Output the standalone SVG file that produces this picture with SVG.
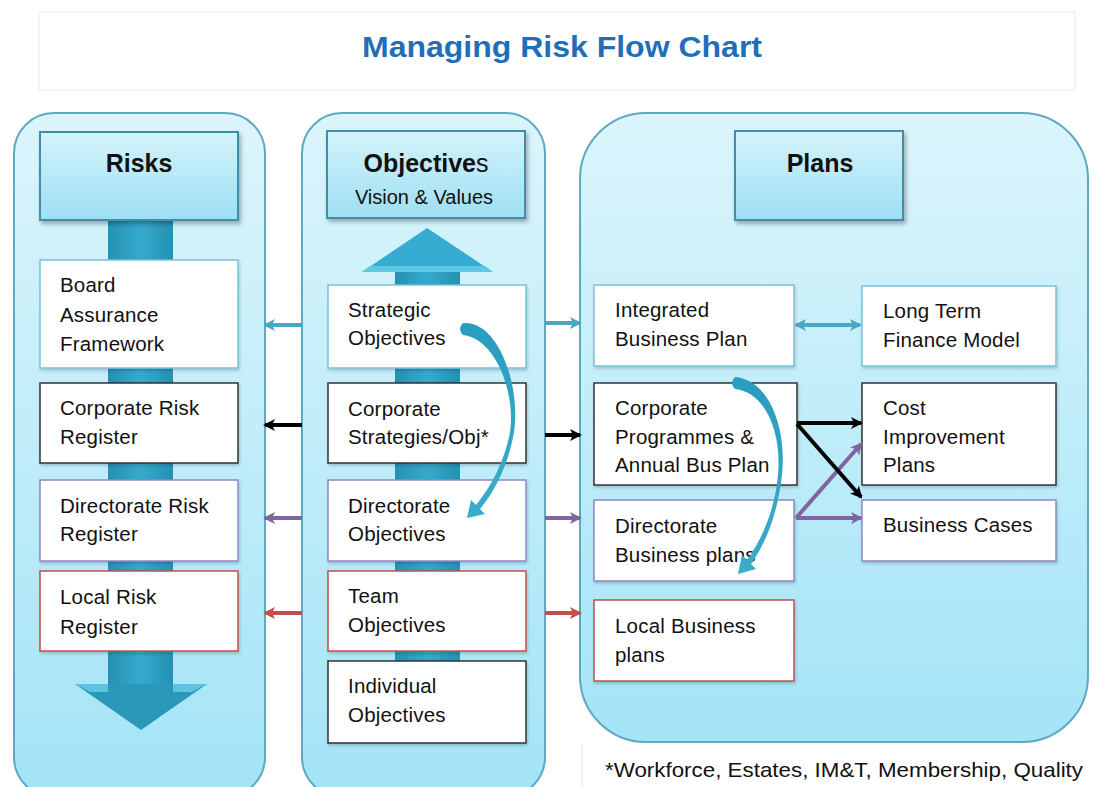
<svg xmlns="http://www.w3.org/2000/svg" width="1094" height="787" viewBox="0 0 1094 787">
  <defs>
    <linearGradient id="panelGrad" x1="0" y1="0" x2="0" y2="1">
      <stop offset="0" stop-color="#dcf5fc"/>
      <stop offset="1" stop-color="#a3e4f6"/>
    </linearGradient>
    <linearGradient id="headGrad" x1="0" y1="0" x2="0" y2="1">
      <stop offset="0" stop-color="#d4f3fb"/>
      <stop offset="1" stop-color="#9edff3"/>
    </linearGradient>
    <linearGradient id="shaftGrad" x1="0" y1="0" x2="1" y2="0">
      <stop offset="0" stop-color="#2590b3"/>
      <stop offset="0.5" stop-color="#35aacd"/>
      <stop offset="1" stop-color="#2590b3"/>
    </linearGradient>
    <linearGradient id="curveGrad" x1="0" y1="0" x2="0" y2="1">
      <stop offset="0" stop-color="#2a9cbf"/>
      <stop offset="1" stop-color="#3aaccb"/>
    </linearGradient>
    <filter id="shadow" x="-10%" y="-10%" width="125%" height="130%">
      <feDropShadow dx="2" dy="3" stdDeviation="2" flood-color="#000" flood-opacity="0.3"/>
    </filter>
    <filter id="soft" x="-10%" y="-10%" width="125%" height="130%">
      <feDropShadow dx="1" dy="2" stdDeviation="1.5" flood-color="#000" flood-opacity="0.18"/>
    </filter>
    <marker id="mTeal" viewBox="0 0 12 12" refX="10" refY="6" markerWidth="12" markerHeight="12" markerUnits="userSpaceOnUse" orient="auto-start-reverse">
      <path d="M0,0 L12,6 L0,12 L3,6 Z" fill="#4aa6c2"/>
    </marker>
    <marker id="mBlack" viewBox="0 0 12 12" refX="10" refY="6" markerWidth="12" markerHeight="12" markerUnits="userSpaceOnUse" orient="auto">
      <path d="M0,0 L12,6 L0,12 L3,6 Z" fill="#000"/>
    </marker>
    <marker id="mPurple" viewBox="0 0 12 12" refX="10" refY="6" markerWidth="12" markerHeight="12" markerUnits="userSpaceOnUse" orient="auto">
      <path d="M0,0 L12,6 L0,12 L3,6 Z" fill="#8064a2"/>
    </marker>
    <marker id="mRed" viewBox="0 0 12 12" refX="10" refY="6" markerWidth="12" markerHeight="12" markerUnits="userSpaceOnUse" orient="auto">
      <path d="M0,0 L12,6 L0,12 L3,6 Z" fill="#c0504d"/>
    </marker>
  </defs>
  <style>
    text { font-family: "Liberation Sans", Arial, sans-serif; fill: #111; }
    .panel { fill: url(#panelGrad); stroke: #5ea9c2; stroke-width: 2; }
    .head { fill: url(#headGrad); stroke: #3f8fa9; stroke-width: 2; filter: url(#shadow); }
    .htxt { font-size: 25px; font-weight: bold; text-anchor: middle; }
    .box { fill: #fff; stroke-width: 1.5; filter: url(#soft); }
    .b-teal { stroke: #79c1d7; }
    .b-dark { stroke: #333; }
    .b-purple { stroke: #8e86c4; }
    .b-red { stroke: #c0504d; }
    .t { font-size: 20.5px; letter-spacing: 0.2px; }
    .c { fill: none; stroke-width: 4; }
    .c-teal { stroke: #4aa6c2; }
    .c-black { stroke: #000; }
    .c-purple { stroke: #8064a2; }
    .c-red { stroke: #c0504d; }
  </style>

  <!-- page title -->
  <g id="title">
    <rect x="39" y="12" width="1036" height="78" fill="#fff" stroke="#ececec" stroke-width="1"/>
    <text x="562" y="57" text-anchor="middle" font-size="29" font-weight="bold" style="fill:#1f6fb8" textLength="400" lengthAdjust="spacingAndGlyphs">Managing Risk Flow Chart</text>
  </g>

  <!-- column backgrounds -->
  <g id="panels">
    <rect class="panel" x="14" y="113" width="251" height="684" rx="40" ry="40"/>
    <rect class="panel" x="302" y="113" width="243" height="684" rx="40" ry="40"/>
    <rect class="panel" x="580" y="113" width="508" height="629" rx="66" ry="66"/>
  </g>

  <!-- big flow arrows behind the boxes -->
  <g id="flow-down">
    <rect x="108" y="218" width="65" height="468" fill="url(#shaftGrad)"/>
    <path d="M75,684 L207,684 L141,730 Z" fill="#2a97bb"/>
    <path d="M75,684 L108,684 L108,692 L90,692 Z" fill="#5cc4e0"/>
    <path d="M207,684 L173,684 L173,692 L192,692 Z" fill="#5cc4e0"/>
  </g>
  <g id="flow-up">
    <rect x="395" y="268" width="65" height="395" fill="url(#shaftGrad)"/>
    <path d="M362,272 L493,272 L427,228 Z" fill="#35acd0"/>
    <path d="M362,272 L493,272 L485,266 L370,266 Z" fill="#5ec8e4"/>
  </g>

  <!-- column headers -->
  <g id="hdr-risks">
    <rect class="head" x="40" y="132" width="198" height="88"/>
    <text class="htxt" x="139" y="172">Risks</text>
  </g>
  <g id="hdr-objectives">
    <rect class="head" x="327" y="131" width="198" height="87"/>
    <text class="htxt" x="426" y="172" font-size="26">Objective<tspan font-weight="normal">s</tspan></text>
    <text x="424" y="204" font-size="20" text-anchor="middle">Vision &amp; Values</text>
  </g>
  <g id="hdr-plans">
    <rect class="head" x="735" y="131" width="168" height="89"/>
    <text class="htxt" x="820" y="172">Plans</text>
  </g>

  <!-- risk column -->
  <g id="board-assurance">
    <rect class="box b-teal" x="40" y="260" width="198" height="108"/>
    <text class="t" x="60" y="292">Board</text>
    <text class="t" x="60" y="322">Assurance</text>
    <text class="t" x="60" y="351">Framework</text>
  </g>
  <g id="corporate-risk">
    <rect class="box b-dark" x="40" y="383" width="198" height="80"/>
    <text class="t" x="60" y="415">Corporate Risk</text>
    <text class="t" x="60" y="444">Register</text>
  </g>
  <g id="directorate-risk">
    <rect class="box b-purple" x="40" y="480" width="198" height="81"/>
    <text class="t" x="60" y="513">Directorate Risk</text>
    <text class="t" x="60" y="541">Register</text>
  </g>
  <g id="local-risk">
    <rect class="box b-red" x="40" y="571" width="198" height="80"/>
    <text class="t" x="60" y="604">Local Risk</text>
    <text class="t" x="60" y="634">Register</text>
  </g>

  <!-- objectives column -->
  <g id="strategic-obj">
    <rect class="box b-teal" x="328" y="285" width="198" height="83"/>
    <text class="t" x="348" y="317">Strategic</text>
    <text class="t" x="348" y="345">Objectives</text>
  </g>
  <g id="corporate-strat">
    <rect class="box b-dark" x="328" y="383" width="198" height="80"/>
    <text class="t" x="348" y="416">Corporate</text>
    <text class="t" x="348" y="444">Strategies/Obj*</text>
  </g>
  <g id="directorate-obj">
    <rect class="box b-purple" x="328" y="480" width="198" height="81"/>
    <text class="t" x="348" y="513">Directorate</text>
    <text class="t" x="348" y="541">Objectives</text>
  </g>
  <g id="team-obj">
    <rect class="box b-red" x="328" y="571" width="198" height="80"/>
    <text class="t" x="348" y="603">Team</text>
    <text class="t" x="348" y="632">Objectives</text>
  </g>
  <g id="individual-obj">
    <rect class="box b-dark" x="328" y="661" width="198" height="82"/>
    <text class="t" x="348" y="693">Individual</text>
    <text class="t" x="348" y="722">Objectives</text>
  </g>

  <!-- plans column -->
  <g id="integrated-plan">
    <rect class="box b-teal" x="594" y="285" width="200" height="81"/>
    <text class="t" x="615" y="317">Integrated</text>
    <text class="t" x="615" y="346">Business Plan</text>
  </g>
  <g id="finance-model">
    <rect class="box b-teal" x="862" y="286" width="194" height="80"/>
    <text class="t" x="883" y="318">Long Term</text>
    <text class="t" x="883" y="347">Finance Model</text>
  </g>
  <g id="corporate-prog">
    <rect class="box b-dark" x="594" y="383" width="203" height="102"/>
    <text class="t" x="615" y="415">Corporate</text>
    <text class="t" x="615" y="444">Programmes &amp;</text>
    <text class="t" x="615" y="472">Annual Bus Plan</text>
  </g>
  <g id="cost-improvement">
    <rect class="box b-dark" x="862" y="383" width="194" height="102"/>
    <text class="t" x="883" y="415">Cost</text>
    <text class="t" x="883" y="444">Improvement</text>
    <text class="t" x="883" y="472">Plans</text>
  </g>
  <g id="directorate-plans">
    <rect class="box b-purple" x="594" y="500" width="200" height="81"/>
    <text class="t" x="615" y="533">Directorate</text>
    <text class="t" x="615" y="562">Business plans</text>
  </g>
  <g id="business-cases">
    <rect class="box b-purple" x="862" y="500" width="194" height="61"/>
    <text class="t" x="883" y="532">Business Cases</text>
  </g>
  <g id="local-plans">
    <rect class="box b-red" x="594" y="600" width="200" height="81"/>
    <text class="t" x="615" y="633">Local Business</text>
    <text class="t" x="615" y="662">plans</text>
  </g>

  <!-- connectors -->
  <g id="connectors">
    <line class="c c-teal" x1="302" y1="325" x2="265" y2="325" marker-end="url(#mTeal)"/>
    <line class="c c-black" x1="302" y1="425" x2="265" y2="425" marker-end="url(#mBlack)"/>
    <line class="c c-purple" x1="302" y1="518" x2="265" y2="518" marker-end="url(#mPurple)"/>
    <line class="c c-red" x1="302" y1="613" x2="265" y2="613" marker-end="url(#mRed)"/>

    <line class="c c-teal" x1="545" y1="323" x2="580" y2="323" marker-end="url(#mTeal)"/>
    <line class="c c-black" x1="545" y1="435" x2="580" y2="435" marker-end="url(#mBlack)"/>
    <line class="c c-purple" x1="545" y1="518" x2="580" y2="518" marker-end="url(#mPurple)"/>
    <line class="c c-red" x1="545" y1="613" x2="580" y2="613" marker-end="url(#mRed)"/>

    <line class="c c-teal" x1="796" y1="325" x2="860" y2="325" marker-start="url(#mTeal)" marker-end="url(#mTeal)"/>

    <line class="c c-purple" x1="796" y1="518" x2="861" y2="518" marker-end="url(#mPurple)"/>
    <line class="c c-purple" x1="796" y1="518" x2="861" y2="444" marker-end="url(#mPurple)"/>
    <line class="c c-black" x1="797" y1="423" x2="861" y2="423" marker-end="url(#mBlack)"/>
    <line class="c c-black" x1="797" y1="424" x2="861" y2="497" marker-end="url(#mBlack)"/>

    <!-- curved cascade arrows, tapering from a thick start -->
    <path d="M463,323 C498,320 521,385 514,432 C509,462 496,490 480,509 L485,514 L467,518 L471,500 L476,505 C491,487 505,460 510,432 C516,390 494,338 463,335 Q457,329 463,323 Z" fill="url(#curveGrad)"/>
    <path d="M735,377 C770,380 787,430 782,475 C778,510 768,540 751,564 L756,569 L738,574 L742,555 L747,560 C763,538 775,508 778,475 C782,432 765,392 735,389 Q729,383 735,377 Z" fill="url(#curveGrad)"/>
  </g>

  <!-- footnote -->
  <g id="footnote">
    <rect x="580" y="745" width="514" height="42" fill="#fff"/>
    <line x1="582" y1="745" x2="582" y2="787" stroke="#e2e2e2" stroke-width="1"/>
    <text x="605" y="777" font-size="21" textLength="478" lengthAdjust="spacingAndGlyphs">*Workforce, Estates, IM&amp;T, Membership, Quality</text>
  </g>
</svg>
